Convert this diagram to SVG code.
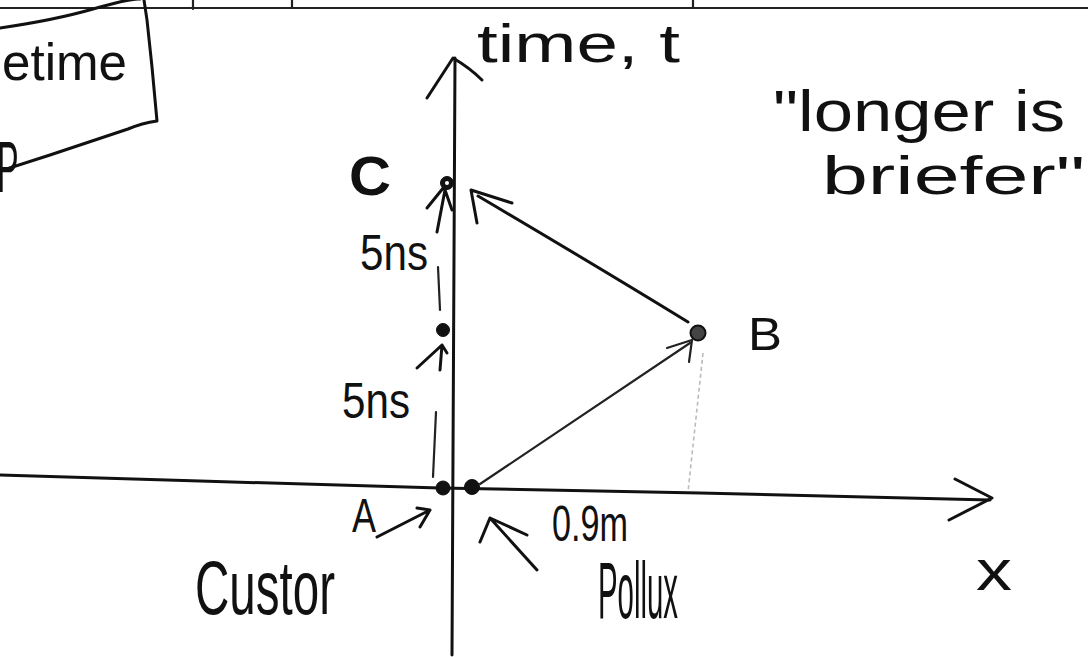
<svg xmlns="http://www.w3.org/2000/svg" width="1088" height="657" viewBox="0 0 1088 657">
<style>
  .ln{fill:none;stroke:#111;stroke-width:3;stroke-linecap:round;stroke-linejoin:round}
  .thin{fill:none;stroke:#222;stroke-width:2.2;stroke-linecap:round;stroke-linejoin:round}
  .faint{fill:none;stroke:#bbb;stroke-width:1.6;stroke-dasharray:4 3}
  .t{font-family:"Liberation Sans","DejaVu Sans",sans-serif;fill:#111}
  .dot{fill:#111;stroke:#111;stroke-width:1}
</style>
<rect width="1088" height="657" fill="#fff"/>

<!-- top rule and page fragments -->
<g id="page-top">
  <path class="thin" d="M0,8 L1088,8"/>
  <path class="thin" d="M193,0 L193,9 M292,0 L292,8 M693,0 L693,8"/>
</g>

<!-- partial box at top-left -->
<g id="box">
  <path class="ln" d="M0,28 Q55,20 93,9 T140,-1"/>
  <path class="ln" d="M144,0 L147,20 L152,67 L157,121 C150,122 140,124 128,129 L50,155 L0,171"/>
  <text class="t" x="2" y="80" font-size="52" textLength="125" lengthAdjust="spacingAndGlyphs">etime</text>
  <text class="t" transform="translate(-3,192) scale(0.45,1)" font-size="72">P</text>
</g>

<!-- axes -->
<g id="connectors">
  <path id="t-axis" class="ln" d="M452,655 L455,58"/>
  <path class="ln" d="M427,98 L453,58 Q470,68 482,80"/>
  <path id="x-axis" class="ln" d="M0,475 L200,481 L440,488 L700,493 L990,500"/>
  <path class="ln" d="M955,479 L992,498 L949,520"/>

  <!-- Pollux to B -->
  <path class="thin" d="M480,484 L690,343"/>
  <path class="thin" d="M667,348 L692,340 L689,362"/>
  <!-- B to C -->
  <path class="ln" d="M688,322 Q600,268 478,196"/>
  <path class="ln" d="M477,223 L471,190 L512,203"/>
  <!-- faint projection of B -->
  <path class="faint" d="M703,353 L688,492"/>

  <!-- interval marks on the left -->
  <path class="thin" d="M438,267 L440,310"/>
  <path class="thin" d="M436,412 L433,477"/>
  <path class="ln" d="M445,190 L437,232 M427,208 L444,187 L452,210"/>
  <path class="ln" d="M417,368 L442,345 L440,370 M442,345 L447,353"/>

  <!-- pointer arrows -->
  <path class="ln" d="M377,537 L430,510 M417,508 L430,510 L420,527"/>
  <path class="ln" d="M480,542 L490,518 L527,535 M490,518 L537,570"/>
</g>

<!-- event nodes -->
<g id="A-event">
  <circle class="dot" cx="443" cy="488" r="7"/>
  <text class="t" x="352" y="532" font-size="48" textLength="24" lengthAdjust="spacingAndGlyphs">A</text>
</g>
<g id="Pollux-start">
  <circle class="dot" cx="472" cy="487" r="7.5"/>
</g>
<g id="mid-event">
  <circle class="dot" cx="443" cy="330" r="6.5"/>
</g>
<g id="C-event">
  <circle class="dot" cx="447" cy="183" r="6.5"/>
  <circle cx="447" cy="183" r="2" fill="#fff"/>
  <text class="t" x="349" y="195" font-size="56" font-weight="bold" textLength="42" lengthAdjust="spacingAndGlyphs">C</text>
</g>
<g id="B-event">
  <circle cx="698" cy="333" r="7.5" fill="#444" stroke="#111" stroke-width="2"/>
  <text class="t" x="748" y="350" font-size="46" textLength="34" lengthAdjust="spacingAndGlyphs">B</text>
</g>

<!-- labels -->
<g id="labels">
  <text class="t" x="477" y="62" font-size="54" textLength="203" lengthAdjust="spacingAndGlyphs">time, t</text>
  <text class="t" x="360" y="270" font-size="50" textLength="68" lengthAdjust="spacingAndGlyphs">5ns</text>
  <text class="t" x="342" y="418" font-size="50" textLength="68" lengthAdjust="spacingAndGlyphs">5ns</text>
  <text class="t" x="552" y="541" font-size="50" textLength="76" lengthAdjust="spacingAndGlyphs">0.9m</text>
  <text class="t" x="195" y="614" font-size="76" textLength="140" lengthAdjust="spacingAndGlyphs">Custor</text>
  <text class="t" x="598" y="618" font-size="80" textLength="80" lengthAdjust="spacingAndGlyphs">Pollux</text>
  <text class="t" x="976" y="590" font-size="58" textLength="36" lengthAdjust="spacingAndGlyphs">x</text>
  <text class="t" x="773" y="131" font-size="58" textLength="292" lengthAdjust="spacingAndGlyphs">"longer is</text>
  <text class="t" x="822" y="194" font-size="54" textLength="263" lengthAdjust="spacingAndGlyphs">briefer"</text>
</g>
</svg>
